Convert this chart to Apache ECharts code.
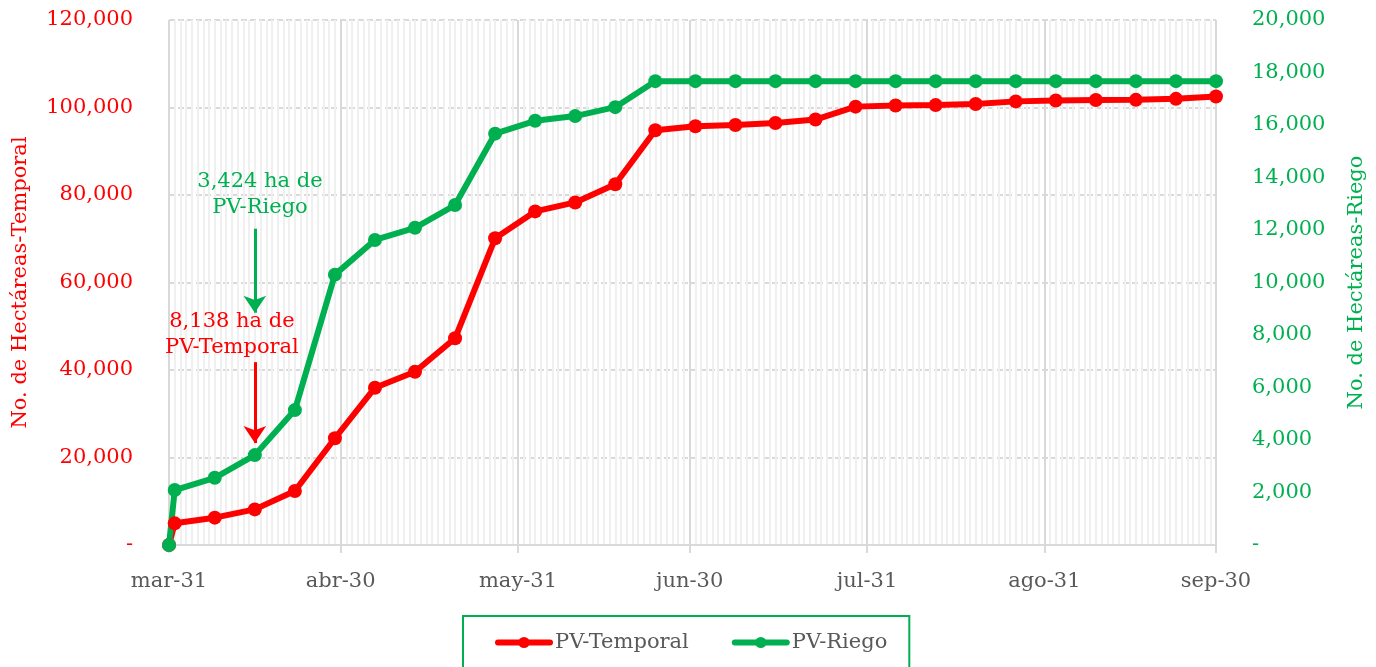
<!DOCTYPE html>
<html>
<head>
<meta charset="utf-8">
<script src="https://cdn.jsdelivr.net/npm/echarts@6/dist/echarts.min.js"></script>
<style>
  html, body { margin: 0; background: #fff; }
  #chart { width: 1376px; height: 667px; }
</style>
</head>
<body>
<div id="chart"></div>
<script>
// axis range
const startDate = "2020-03-31";
const endDate = "2020-09-30";

// observation dates (weekly cut-offs)
const dates = [
  "2020-03-31", "2020-04-01", "2020-04-08", "2020-04-15", "2020-04-22", "2020-04-29",
  "2020-05-06", "2020-05-13", "2020-05-20", "2020-05-27", "2020-06-03", "2020-06-10",
  "2020-06-17", "2020-06-24", "2020-07-01", "2020-07-08", "2020-07-15", "2020-07-22",
  "2020-07-29", "2020-08-05", "2020-08-12", "2020-08-19", "2020-08-26", "2020-09-02",
  "2020-09-09", "2020-09-16", "2020-09-23", "2020-09-30",
];

// PV-Temporal (left axis, ha)
const temporal = [
  0, 4950, 6250, 8138, 12340, 24400,
  35950, 39600, 47250, 70100, 76250, 78300,
  82450, 94800, 95700, 96000, 96450, 97250,
  100200, 100450, 100550, 100800, 101400, 101600,
  101700, 101750, 101980, 102520,
];

// PV-Riego (right axis, ha)
const riego = [
  0, 2095, 2560, 3424, 5140, 10300,
  11620, 12085, 12950, 15670, 16160, 16340,
  16680, 17670, 17670, 17670, 17670, 17670,
  17670, 17670, 17670, 17670, 17670, 17670,
  17670, 17670, 17670, 17670,
];

// x tick labels at month ends
const monthEnds = ["2020-03-31", "2020-04-30", "2020-05-31", "2020-06-30", "2020-07-31", "2020-08-31", "2020-09-30"];
const monthLabels = ["mar-31", "abr-30", "may-31", "jun-30", "jul-31", "ago-31", "sep-30"];

const leftMax = 120000;
const leftStep = 20000;
const rightMax = 20000;
const rightStep = 2000;

const RED = "#ff0000";
const GREEN = "#00b050";
const GREY_TEXT = "#595959";
const FONT = '"DejaVu Serif", serif';

const dayOf = (d) => Math.round((Date.parse(d) - Date.parse(startDate)) / 86400000);
const totalDays = dayOf(endDate);
const days = dates.map(dayOf);
const monthDays = monthEnds.map(dayOf);
const fmtNum = (v) => (v === 0 ? "-" : v.toLocaleString("en-US"));

const chart = echarts.init(document.getElementById("chart"), null, { renderer: "canvas" });

chart.setOption({
  animation: false,
  textStyle: { fontFamily: FONT },
  grid: { left: 169, right: 160, top: 20, bottom: 122, containLabel: false },
  legend: {
    data: ["PV-Temporal", "PV-Riego"],
    left: 463,
    top: 616,
    padding: [16, 22, 40, 32],
    itemWidth: 52,
    itemHeight: 14,
    itemGap: 43,
    borderColor: GREEN,
    borderWidth: 2,
    lineStyle: { width: 6, cap: "round" },
    textStyle: { color: GREY_TEXT, fontSize: 21, fontFamily: FONT },
  },
  xAxis: [
    {
      // daily minor grid
      type: "value",
      min: 0,
      max: totalDays,
      interval: 1,
      position: "bottom",
      axisLine: { show: false },
      axisTick: { show: false },
      axisLabel: { show: false },
      splitLine: { show: true, lineStyle: { color: "#f0f0f0", width: 2 } },
    },
    {
      // month-end major grid + labels
      type: "value",
      min: 0,
      max: totalDays,
      position: "bottom",
      axisLine: { show: true, lineStyle: { color: "#d9d9d9", width: 2 } },
      axisTick: { show: true, customValues: monthDays, length: 8, lineStyle: { color: "#d9d9d9", width: 2 } },
      axisLabel: {
        customValues: monthDays,
        formatter: (v) => monthLabels[monthDays.indexOf(v)] || "",
        margin: 26,
        color: GREY_TEXT,
        fontSize: 21,
        fontFamily: FONT,
      },
      splitLine: { show: true, lineStyle: { color: "#d9d9d9", width: 2 } },
    },
  ],
  yAxis: [
    {
      type: "value",
      min: 0,
      max: leftMax,
      interval: leftStep,
      position: "left",
      name: "No. de Hectáreas-Temporal",
      nameLocation: "middle",
      nameRotate: 90,
      nameGap: 138,
      nameTextStyle: { color: RED, fontSize: 21, fontFamily: FONT },
      axisLine: { show: false },
      axisTick: { show: false },
      axisLabel: { color: RED, fontSize: 21, margin: 36, fontFamily: FONT, formatter: fmtNum },
      splitLine: { show: true, lineStyle: { color: "#d9d9d9", width: 2, type: [6, 3] } },
    },
    {
      type: "value",
      min: 0,
      max: rightMax,
      interval: rightStep,
      position: "right",
      name: "No. de Hectáreas-Riego",
      nameLocation: "middle",
      nameRotate: 90,
      nameGap: 130,
      nameTextStyle: { color: GREEN, fontSize: 21, fontFamily: FONT },
      axisLine: { show: false },
      axisTick: { show: false },
      axisLabel: { color: GREEN, fontSize: 21, margin: 36, fontFamily: FONT, formatter: fmtNum },
      splitLine: { show: false },
    },
  ],
  series: [
    {
      name: "PV-Temporal",
      type: "line",
      xAxisIndex: 0,
      yAxisIndex: 0,
      data: days.map((d, i) => [d, temporal[i]]),
      symbol: "circle",
      symbolSize: 14,
      lineStyle: { color: RED, width: 6 },
      itemStyle: { color: RED },
      emphasis: { disabled: true },
      markLine: {
        silent: true,
        symbol: ["none", "arrow"],
        symbolSize: 17,
        label: { show: false },
        lineStyle: { color: RED, width: 3, type: "solid" },
        data: [[{ coord: [days[3], 41800] }, { coord: [days[3], 23300] }]],
      },
      markPoint: {
        silent: true,
        symbol: "circle",
        symbolSize: 0,
        label: {
          show: true,
          position: "inside",
          color: RED,
          fontSize: 21,
          lineHeight: 26,
          fontFamily: FONT,
          formatter: temporal[3].toLocaleString("en-US") + " ha de\nPV-Temporal",
        },
        data: [{ coord: [11, 48000] }],
      },
    },
    {
      name: "PV-Riego",
      type: "line",
      xAxisIndex: 0,
      yAxisIndex: 1,
      data: days.map((d, i) => [d, riego[i]]),
      symbol: "circle",
      symbolSize: 14,
      lineStyle: { color: GREEN, width: 6 },
      itemStyle: { color: GREEN },
      emphasis: { disabled: true },
      markLine: {
        silent: true,
        symbol: ["none", "arrow"],
        symbolSize: 17,
        label: { show: false },
        lineStyle: { color: GREEN, width: 3, type: "solid" },
        data: [[{ coord: [days[3], 12050] }, { coord: [days[3], 8850] }]],
      },
      markPoint: {
        silent: true,
        symbol: "circle",
        symbolSize: 0,
        label: {
          show: true,
          position: "inside",
          color: GREEN,
          fontSize: 21,
          lineHeight: 26,
          fontFamily: FONT,
          formatter: riego[3].toLocaleString("en-US") + " ha de\nPV-Riego",
        },
        data: [{ coord: [15.9, 13350] }],
      },
    },
  ],
});

window.addEventListener("resize", () => chart.resize());
</script>
</body>
</html>
